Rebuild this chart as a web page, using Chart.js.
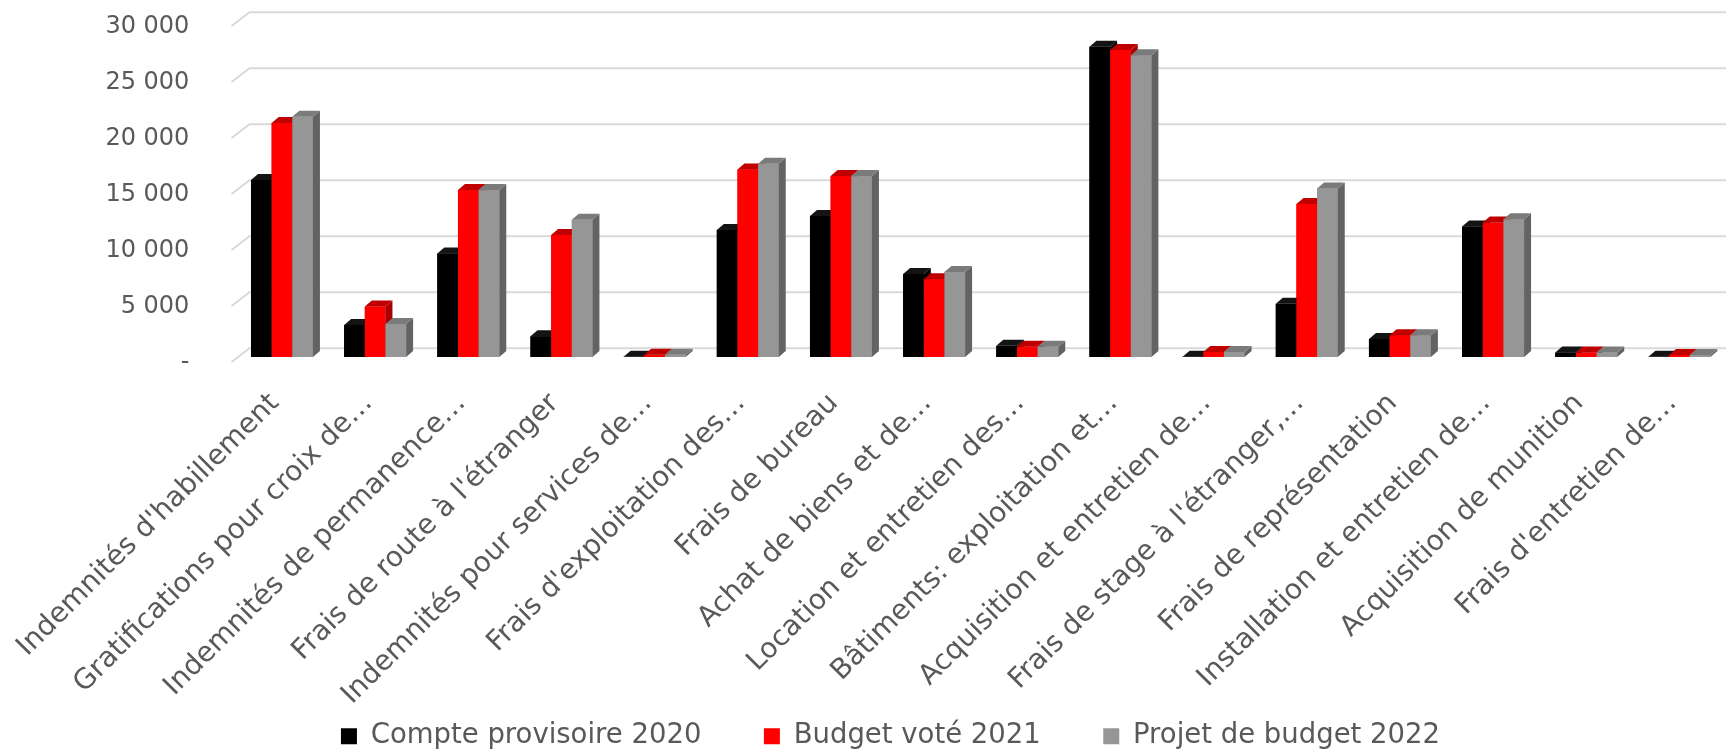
<!DOCTYPE html>
<html lang="fr">
<head>
  <meta charset="UTF-8" />
  <title>Budget - comparaison</title>
  <script src="https://cdn.jsdelivr.net/npm/chart.js"></script>
  <style>
    html, body { margin: 0; padding: 0; background: #fff; }
    #wrap { width: 1726px; height: 752px; position: relative; }
  </style>
</head>
<body>
  <div id="wrap"><canvas id="budgetChart"></canvas></div>

  <script>
    const categories = [
      "Indemnités d'habillement",
      "Gratifications pour croix de…",
      "Indemnités de permanence…",
      "Frais de route à l'étranger",
      "Indemnités pour services de…",
      "Frais d'exploitation des…",
      "Frais de bureau",
      "Achat de biens et de…",
      "Location et entretien des…",
      "Bâtiments: exploitation et…",
      "Acquisition et entretien de…",
      "Frais de stage à l'étranger,…",
      "Frais de représentation",
      "Installation et entretien de…",
      "Acquisition de munition",
      "Frais d'entretien de…"
    ];
    const compte2020 = [15800, 2850, 9250, 1850, 20, 11350, 12600, 7400, 1000, 27700, 30, 4750, 1600, 11650, 400, 20];
    const budget2021 = [20900, 4500, 14900, 10900, 200, 16750, 16150, 6950, 920, 27400, 450, 13650, 1950, 12000, 400, 180];
    const projet2022 = [21450, 2950, 14900, 12250, 200, 17250, 16150, 7600, 920, 26950, 450, 15050, 1950, 12300, 400, 180];
    const seriesNames = ['Compte provisoire 2020', 'Budget voté 2021', 'Projet de budget 2022'];
    const yTicks = [0, 5000, 10000, 15000, 20000, 25000, 30000];

    const FONT = 'DejaVu Sans';
    const TEXT = '#595959';
    const PLOT_LEFT = 231;
    const PLOT_BOTTOM = 357;
    const PAD_LEFT = 55;
    const PAD_BOTTOM = -8;

    // face colours per series: front, top, side
    const faces = [
      { front: '#000000', top: '#141414', side: '#000000' },
      { front: '#ff0000', top: '#c00000', side: '#a80000' },
      { front: '#969696', top: '#7b7b7b', side: '#636363' }
    ];

    const fmt = v => v === 0 ? '-' : String(v).replace(/\B(?=(\d{3})+(?!\d))/g, ' ');
    const gap = '      ';

    // back wall gridlines with the little diagonal on the left side
    const wallGrid = {
      id: 'wallGrid',
      beforeDatasetsDraw(chart) {
        const { ctx, chartArea, scales: { y } } = chart;
        ctx.save();
        ctx.strokeStyle = '#d9d9d9';
        ctx.lineWidth = 2;
        yTicks.forEach(v => {
          const py = y.getPixelForValue(v);
          ctx.beginPath();
          ctx.moveTo(chartArea.left - 4, py + 5.3);
          ctx.lineTo(chartArea.left + 14, py - 8.7);
          ctx.lineTo(chart.width, py - 8.7);
          ctx.stroke();
        });
        ctx.restore();
      }
    };

    // redraw each bar as a small box (front, side, top)
    const bar3d = {
      id: 'bar3d',
      afterDatasetsDraw(chart) {
        const ctx = chart.ctx;
        const dx = 7, dy = 6;
        const metas = faces.map((f, i) => chart.getDatasetMeta(i));
        const poly = pts => {
          ctx.beginPath();
          ctx.moveTo(pts[0][0], pts[0][1]);
          for (let k = 1; k < pts.length; k++) ctx.lineTo(pts[k][0], pts[k][1]);
          ctx.closePath();
          ctx.fill();
        };
        ctx.save();
        for (let c = 0; c < categories.length; c++) {
          metas.forEach((meta, d) => {
            const el = meta.data[c];
            const { x, y, width, base } = el.getProps(['x', 'y', 'width', 'base'], true);
            const l = x - width / 2, r = x + width / 2;
            ctx.fillStyle = faces[d].front;
            ctx.fillRect(l, y, width, base - y);
            ctx.fillStyle = faces[d].side;
            poly([[r, y], [r + dx, y - dy], [r + dx, base - dy], [r, base]]);
            ctx.fillStyle = faces[d].top;
            poly([[l, y], [r, y], [r + dx, y - dy], [l + dx, y - dy]]);
          });
        }
        ctx.restore();
      }
    };

    const ctx = document.getElementById('budgetChart').getContext('2d');
    new Chart(ctx, {
      type: 'bar',
      data: {
        labels: categories,
        datasets: [
          { label: seriesNames[0], data: compte2020, backgroundColor: faces[0].front },
          { label: seriesNames[1], data: budget2021, backgroundColor: faces[1].front },
          { label: seriesNames[2], data: projet2022, backgroundColor: faces[2].front }
        ]
      },
      options: {
        responsive: true,
        maintainAspectRatio: false,
        animation: false,
        devicePixelRatio: 1,
        datasets: { bar: { categoryPercentage: 0.665, barPercentage: 1, borderWidth: 0 } },
        layout: { padding: { top: 21, left: PAD_LEFT, right: 0, bottom: PAD_BOTTOM } },
        plugins: {
          tooltip: { enabled: false },
          legend: {
            position: 'bottom',
            labels: {
              boxWidth: 16,
              boxHeight: 16,
              padding: 10,
              color: TEXT,
              font: { family: FONT, size: 27.5 },
              generateLabels(chart) {
                const items = Chart.defaults.plugins.legend.labels.generateLabels(chart);
                items.forEach((it, i) => {
                  if (i < items.length - 1) it.text = it.text + gap;
                  it.lineWidth = 0;
                });
                return items;
              }
            }
          }
        },
        scales: {
          x: {
            grid: { display: false },
            border: { display: false },
            ticks: {
              autoSkip: false,
              minRotation: 45,
              maxRotation: 45,
              padding: 22,
              labelOffset: -7,
              color: TEXT,
              font: { family: FONT, size: 28 }
            },
            afterFit(scale) {
              const lg = scale.chart.legend;
              const lh = lg ? lg.height : 0;
              scale.height = scale.chart.height - PLOT_BOTTOM - lh - PAD_BOTTOM;
            }
          },
          y: {
            min: 0,
            max: 30000,
            grid: { display: false, drawTicks: false },
            border: { display: false },
            afterBuildTicks(scale) {
              scale.ticks = yTicks.map(v => ({ value: v }));
            },
            ticks: {
              padding: 46,
              labelOffset: 6,
              color: TEXT,
              font: { family: FONT, size: 24 },
              callback: v => fmt(v)
            },
            afterFit(scale) {
              scale.width = PLOT_LEFT - PAD_LEFT;
              scale.paddingTop = 0;
              scale.paddingBottom = 0;
            }
          }
        }
      },
      plugins: [wallGrid, bar3d]
    });
  </script>
</body>
</html>
